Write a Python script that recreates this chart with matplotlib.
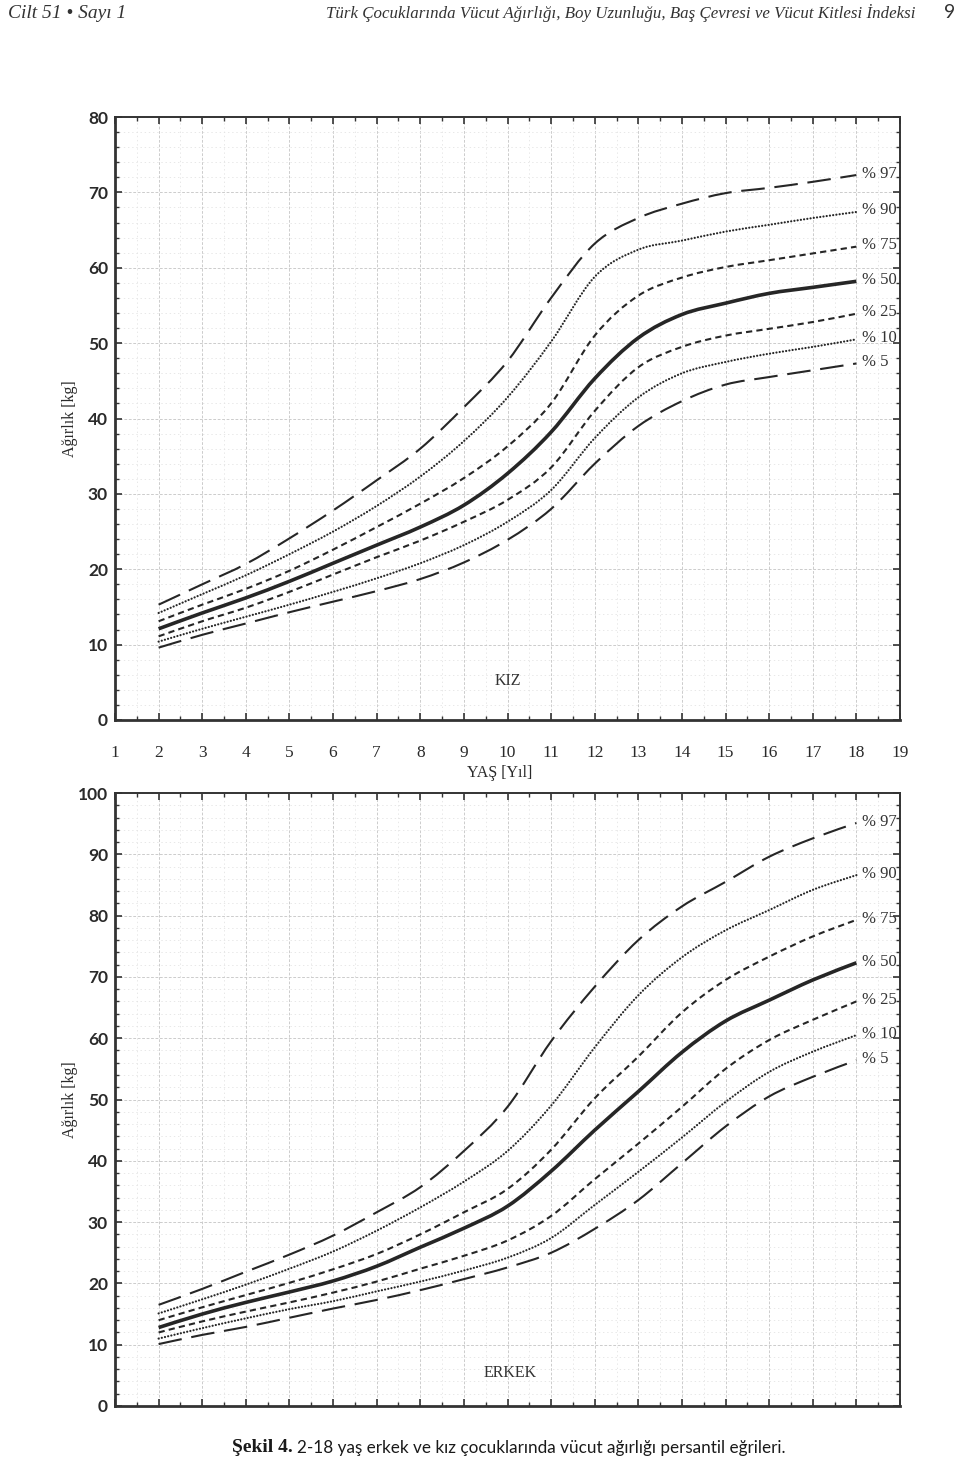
import matplotlib
matplotlib.use("Agg")
import matplotlib.pyplot as plt
import numpy as np
from matplotlib.ticker import MultipleLocator
from matplotlib.path import Path
from matplotlib.patches import PathPatch

plt.rcParams['lines.scale_dashes'] = False

ages = [2, 3, 4, 5, 6, 7, 8, 9, 10, 11, 12, 13, 14, 15, 16, 17, 18]
percentile_names = ["% 97", "% 90", "% 75", "% 50", "% 25", "% 10", "% 5"]

# Girls (KIZ) weight percentiles, kg
girls_p97 = [15.3, 18.0, 20.7, 24.1, 27.8, 31.8, 36.0, 41.5, 47.6, 56.0, 63.2, 66.6, 68.5, 69.9, 70.6, 71.4, 72.3]
girls_p90 = [14.2, 16.7, 19.2, 22.0, 25.0, 28.4, 32.3, 37.0, 42.8, 50.2, 58.8, 62.4, 63.6, 64.8, 65.7, 66.6, 67.4]
girls_p75 = [13.1, 15.3, 17.4, 19.8, 22.6, 25.6, 28.7, 32.1, 36.3, 42.0, 51.0, 56.3, 58.7, 60.1, 61.0, 61.9, 62.8]
girls_p50 = [12.1, 14.2, 16.2, 18.4, 20.8, 23.2, 25.6, 28.5, 32.7, 38.2, 45.3, 50.7, 53.8, 55.3, 56.6, 57.4, 58.2]
girls_p25 = [11.1, 13.1, 14.9, 17.0, 19.3, 21.6, 23.8, 26.3, 29.2, 33.5, 41.0, 46.8, 49.5, 51.0, 51.9, 52.8, 53.9]
girls_p10 = [10.4, 12.1, 13.7, 15.3, 17.0, 18.8, 20.8, 23.2, 26.3, 30.5, 37.4, 42.8, 46.0, 47.5, 48.6, 49.5, 50.5]
girls_p5 = [9.6, 11.3, 12.8, 14.3, 15.7, 17.1, 18.7, 20.9, 23.9, 28.0, 34.0, 39.0, 42.3, 44.5, 45.5, 46.4, 47.3]

# Boys (ERKEK) weight percentiles, kg
boys_p97 = [16.5, 19.1, 21.9, 24.7, 27.8, 31.6, 35.7, 41.6, 48.8, 59.5, 68.4, 76.0, 81.5, 85.5, 89.6, 92.6, 95.1]
boys_p90 = [15.1, 17.4, 19.8, 22.4, 25.2, 28.6, 32.4, 36.6, 41.6, 49.0, 58.5, 67.0, 73.2, 77.6, 80.9, 84.2, 86.6]
boys_p75 = [14.0, 16.1, 18.1, 20.1, 22.3, 24.8, 28.0, 31.6, 35.4, 41.8, 50.2, 57.0, 64.2, 69.5, 73.3, 76.6, 79.3]
boys_p50 = [12.8, 15.0, 16.9, 18.6, 20.4, 22.8, 25.9, 29.0, 32.6, 38.3, 45.0, 51.3, 57.7, 62.8, 66.2, 69.5, 72.3]
boys_p25 = [12.0, 13.8, 15.4, 16.9, 18.5, 20.3, 22.4, 24.5, 27.0, 31.0, 37.0, 42.8, 48.8, 55.0, 59.7, 63.0, 66.0]
boys_p10 = [11.0, 12.7, 14.3, 15.8, 17.1, 18.7, 20.3, 22.1, 24.2, 27.4, 32.8, 38.2, 43.8, 49.6, 54.5, 57.8, 60.5]
boys_p5 = [10.1, 11.6, 12.9, 14.4, 15.9, 17.3, 18.9, 20.7, 22.6, 25.0, 28.9, 33.6, 39.6, 45.6, 50.5, 53.7, 56.4]

x_ticks = list(range(1, 20))
girls_yticks = list(range(0, 81, 10))
boys_yticks = list(range(0, 101, 10))

INK = "#262626"
styles = [
    dict(lw=1.5, ls=(0, (17, 7)), cap="butt"),
    dict(lw=1.6, ls=(0, (0.05, 2.3)), cap="round"),
    dict(lw=1.5, ls=(0, (4.5, 3.0)), cap="butt"),
    dict(lw=2.6, ls="-", cap="butt"),
    dict(lw=1.5, ls=(0, (4.5, 3.0)), cap="butt"),
    dict(lw=1.6, ls=(0, (0.05, 2.3)), cap="round"),
    dict(lw=1.5, ls=(0, (17, 7)), cap="butt"),
]

SERIF = ["Liberation Serif", "DejaVu Serif"]
SANS = ["Lato", "DejaVu Sans"]

W, H = 960, 1463
fig = plt.figure(figsize=(W / 100, H / 100), dpi=100)


def px_axes(l, t, r, b):
    return fig.add_axes([l / W, 1 - b / H, (r - l) / W, (b - t) / H])


def style_axes(ax, ymax, yticks, show_xlabels):
    ax.set_xlim(1, 19)
    ax.set_ylim(0, ymax)
    ax.set_xticks(x_ticks)
    ax.set_yticks(yticks)
    ax.xaxis.set_minor_locator(MultipleLocator(0.5))
    ax.yaxis.set_minor_locator(MultipleLocator(2))
    ax.grid(which="major", color="#cccccc", lw=0.7, ls=(0, (2, 1.2)))
    ax.grid(which="minor", color="#e4e4e4", lw=0.6, ls=(0, (1, 2)))
    ax.set_axisbelow(True)
    for side, sp in ax.spines.items():
        sp.set_color("#333333")
        sp.set_linewidth(2.0 if side in ("left", "bottom") else 1.4)
    ax.tick_params(which="both", direction="in", top=True, right=True, color="#333333")
    ax.tick_params(which="major", length=5, width=1.2)
    ax.tick_params(which="minor", length=3, width=1.0)
    ax.tick_params(axis="x", which="major", pad=18 if show_xlabels else 0,
                   labelbottom=show_xlabels)
    for lab in ax.get_yticklabels():
        lab.set_fontfamily(SANS)
        lab.set_fontweight("bold")
        lab.set_fontsize(12.5)
        lab.set_color("#2a2a2a")
    for lab in ax.get_xticklabels():
        lab.set_fontfamily(SERIF)
        lab.set_fontsize(12.5)
        lab.set_color("#2a2a2a")
    ax.tick_params(axis="y", pad=5)
    ax.set_ylabel("Ağırlık [kg]", fontfamily=SERIF, fontsize=11.5, color="#2a2a2a")
    ax.yaxis.set_label_coords(-0.047, 0.5)


def smooth_path(xs, ys):
    pts = np.column_stack([xs, ys]).astype(float)
    n = len(pts)
    verts = [pts[0]]
    codes = [Path.MOVETO]
    for i in range(n - 1):
        p0 = pts[i - 1] if i > 0 else pts[i]
        p1 = pts[i]
        p2 = pts[i + 1]
        p3 = pts[i + 2] if i + 2 < n else pts[i + 1]
        verts += [p1 + (p2 - p0) / 6.0, p2 - (p3 - p1) / 6.0, p2]
        codes += [Path.CURVE4] * 3
    return Path(verts, codes)


def draw_curves(ax, series):
    for vals, st, name in zip(series, styles, percentile_names):
        patch = PathPatch(smooth_path(ages, vals), fill=False, edgecolor=INK,
                          lw=st["lw"], linestyle=st["ls"], capstyle=st["cap"])
        ax.add_patch(patch)
        ax.text(18.12, vals[-1] + 0.2, name, fontfamily=SERIF, fontsize=12,
                color="#333333", va="center", ha="left")


ax1 = px_axes(115, 117, 900, 720)
style_axes(ax1, 80, girls_yticks, True)
draw_curves(ax1, [girls_p97, girls_p90, girls_p75, girls_p50, girls_p25, girls_p10, girls_p5])
ax1.text(10.0, 5.2, "KIZ", fontfamily=SERIF, fontsize=11.5, color="#333333", ha="center", va="center")

ax2 = px_axes(115, 793, 900, 1406)
style_axes(ax2, 100, boys_yticks, False)
draw_curves(ax2, [boys_p97, boys_p90, boys_p75, boys_p50, boys_p25, boys_p10, boys_p5])
ax2.text(10.06, 5.4, "ERKEK", fontfamily=SERIF, fontsize=11.5, color="#333333", ha="center", va="center")

fig.text(500 / W, 1 - 773 / H, "YAŞ [Yıl]", fontfamily=SERIF, fontsize=11.5, color="#2a2a2a",
         ha="center", va="center")

# header
fig.text(8 / W, 1 - 13 / H, "Cilt 51 • Sayı 1", fontfamily=SERIF, style="italic", fontsize=14,
         color="#333333", ha="left", va="center")
fig.text(915 / W, 1 - 13 / H,
         "Türk Çocuklarında Vücut Ağırlığı, Boy Uzunluğu, Baş Çevresi ve Vücut Kitlesi İndeksi",
         fontfamily=SERIF, style="italic", fontsize=12.2, color="#333333", ha="right", va="center")
fig.text(955 / W, 1 - 13 / H, "9", fontfamily=SANS, fontsize=14, color="#333333",
         ha="right", va="center")

# caption
fig.text(232 / W, 1 - 1448 / H, "Şekil 4.", fontfamily=SERIF, fontweight="bold", fontsize=14,
         color="#1a1a1a", ha="left", va="center")
fig.text(297 / W, 1 - 1448 / H,
         "2-18 yaş erkek ve kız çocuklarında vücut ağırlığı persantil eğrileri.",
         fontfamily=SANS, fontsize=12.3, color="#1a1a1a", ha="left", va="center")

fig.savefig("out.png", dpi=100, facecolor="white")
